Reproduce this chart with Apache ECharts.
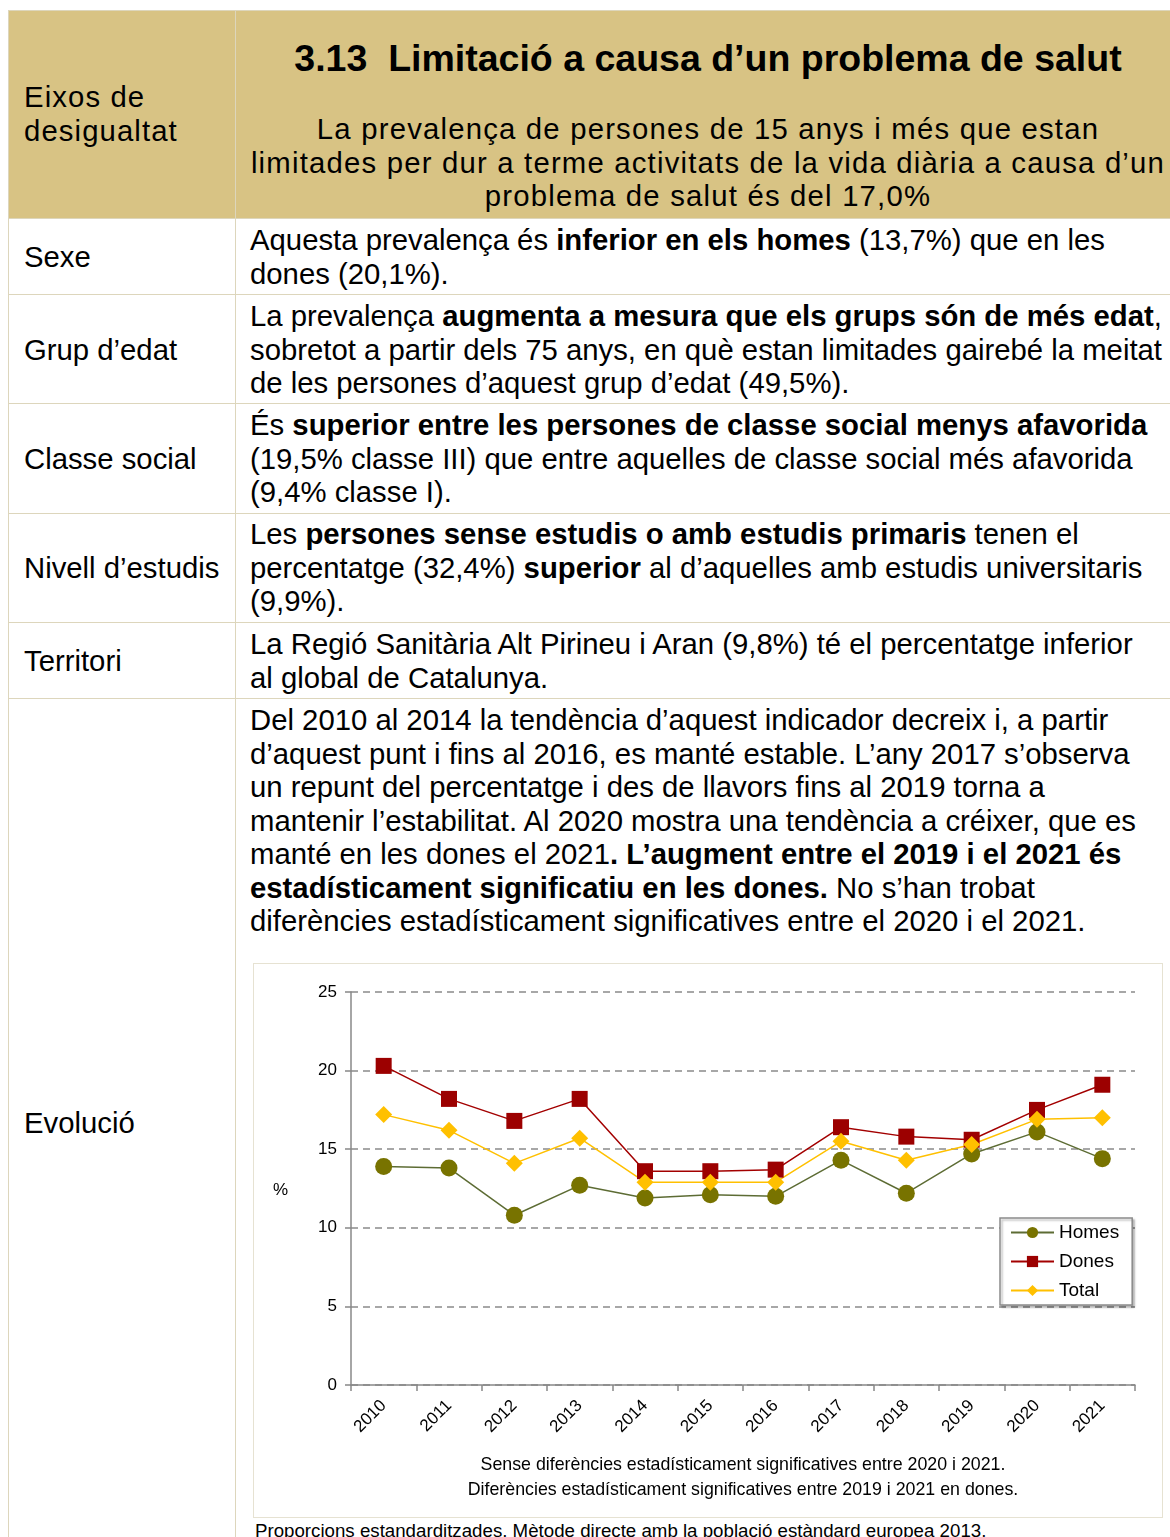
<!DOCTYPE html>
<html>
<head>
<meta charset="utf-8">
<title>3.13 Limitació a causa d'un problema de salut</title>
<script src="https://cdn.jsdelivr.net/npm/echarts/dist/echarts.min.js"></script>
<style>
  body { margin: 0; width: 1170px; height: 1537px; overflow: hidden; background: #fff;
         font-family: "Liberation Sans", Arial, sans-serif; color: #000; }
  .abs { position: absolute; }
  .hline { position: absolute; left: 8px; width: 1170px; height: 1px; background: #ddd6bc; }
  .vline { position: absolute; top: 10px; width: 1px; height: 1540px; background: #ddd6bc; }
  .lbl { position: absolute; left: 24px; font-size: 29.3px; line-height: 33.5px; white-space: nowrap; }
  .txt { position: absolute; left: 250px; font-size: 29.3px; line-height: 33.5px; white-space: nowrap; }
  .com-chart { position: absolute; left: 253px; top: 963px; width: 910px; height: 555px;
               border: 1px solid #e6e2d2; box-sizing: border-box; }
</style>
</head>
<body>
  <!-- capçalera -->
  <div class="abs" style="left:8px;top:10px;width:1170px;height:208px;background:#d8c384;"></div>
  <div class="hline" style="top:10px"></div>
  <div class="vline" style="left:8px"></div>
  <div class="vline" style="left:235px"></div>
  <div class="hline" style="top:218px"></div>
  <div class="hline" style="top:294px"></div>
  <div class="hline" style="top:403px"></div>
  <div class="hline" style="top:513px"></div>
  <div class="hline" style="top:622px"></div>
  <div class="hline" style="top:698px"></div>

  <div class="lbl" style="top:80px;letter-spacing:1.1px;">Eixos de<br>desigualtat</div>
  <div class="abs" style="left:236px;top:37px;width:944px;text-align:center;font-size:37.5px;font-weight:bold;white-space:pre;">3.13  Limitació a causa d’un problema de salut</div>
  <div class="abs" style="left:236px;top:112px;width:944px;text-align:center;font-size:29.3px;line-height:33.5px;letter-spacing:1.2px;white-space:nowrap;">La prevalença de persones de 15 anys i més que estan<br>limitades per dur a terme activitats de la vida diària a causa d’un<br>problema de salut és del 17,0%</div>

  <!-- files -->
  <div class="lbl" style="top:240px">Sexe</div>
  <div class="txt" style="top:223px">Aquesta prevalença és <b>inferior en els homes</b> (13,7%) que en les<br>dones (20,1%).</div>

  <div class="lbl" style="top:333px">Grup d’edat</div>
  <div class="txt" style="top:299px">La prevalença <b>augmenta a mesura que els grups són de més edat</b>,<br>sobretot a partir dels 75 anys, en què estan limitades gairebé la meitat<br>de les persones d’aquest grup d’edat (49,5%).</div>

  <div class="lbl" style="top:442px">Classe social</div>
  <div class="txt" style="top:408px">És <b>superior entre les persones de classe social menys afavorida</b><br>(19,5% classe III) que entre aquelles de classe social més afavorida<br>(9,4% classe I).</div>

  <div class="lbl" style="top:551px">Nivell d’estudis</div>
  <div class="txt" style="top:517px">Les <b>persones sense estudis o amb estudis primaris</b> tenen el<br>percentatge (32,4%) <b>superior</b> al d’aquelles amb estudis universitaris<br>(9,9%).</div>

  <div class="lbl" style="top:644px">Territori</div>
  <div class="txt" style="top:627px">La Regió Sanitària Alt Pirineu i Aran (9,8%) té el percentatge inferior<br>al global de Catalunya.</div>

  <div class="lbl" style="top:1106px">Evolució</div>
  <div class="txt" style="top:703px">Del 2010 al 2014 la tendència d’aquest indicador decreix i, a partir<br>d’aquest punt i fins al 2016, es manté estable. L’any 2017 s’observa<br>un repunt del percentatge i des de llavors fins al 2019 torna a<br>mantenir l’estabilitat. Al 2020 mostra una tendència a créixer, que es<br>manté en les dones el 2021<b>. L’augment entre el 2019 i el 2021 és<br>estadísticament significatiu en les dones.</b> No s’han trobat<br>diferències estadísticament significatives entre el 2020 i el 2021.</div>

  <div class="com-chart" id="chart_ref"></div>
  <div class="abs" style="left:255px;top:1520px;font-size:18.7px;white-space:nowrap;">Proporcions estandarditzades. Mètode directe amb la població estàndard europea 2013.</div>

<script>
// dades llegides del gràfic (%)
const years = ['2010', '2011', '2012', '2013', '2014', '2015', '2016', '2017', '2018', '2019', '2020', '2021']
const homes = [13.9, 13.8, 10.8, 12.7, 11.9, 12.1, 12.0, 14.3, 12.2, 14.7, 16.1, 14.4]
const dones = [20.3, 18.2, 16.8, 18.2, 13.6, 13.6, 13.7, 16.4, 15.8, 15.6, 17.5, 19.1]
const total = [17.2, 16.2, 14.1, 15.7, 12.9, 12.9, 12.9, 15.5, 14.3, 15.3, 16.9, 17.0]
const yMin = 0
const yMax = 25
const yStep = 5
const notes = [
  'Sense diferències estadísticament significatives entre 2020 i 2021.',
  'Diferències estadísticament significatives entre 2019 i 2021 en dones.'
]

const font = '"Liberation Sans", Arial, sans-serif'

function initChart () {
  const chartInstance = echarts.init(document.getElementById('chart_ref'))
  const option = {
    animation: false,
    textStyle: { fontFamily: font, color: '#000' },
    grid: { left: 97, top: 28, right: 27, bottom: 132 },
    legend: {
      orient: 'vertical',
      left: 746,
      top: 254,
      padding: [5, 13, 5, 10],
      itemWidth: 43,
      itemHeight: 14,
      itemGap: 10,
      borderColor: '#8a8a8a',
      borderWidth: 1.5,
      backgroundColor: '#fff',
      shadowColor: 'rgba(0,0,0,0.25)',
      shadowBlur: 2,
      shadowOffsetX: 2,
      shadowOffsetY: 2,
      textStyle: { fontSize: 19, lineHeight: 18, color: '#000', fontFamily: font },
      data: ['Homes', 'Dones', 'Total']
    },
    xAxis: {
      type: 'category',
      data: years,
      boundaryGap: true,
      axisLine: { lineStyle: { color: '#888', width: 1.5 } },
      axisTick: { show: true, length: 6, lineStyle: { color: '#888', width: 1.5 } },
      axisLabel: { rotate: 45, margin: 18, fontSize: 17, color: '#000', fontFamily: font },
      splitLine: { show: false }
    },
    yAxis: {
      type: 'value',
      min: yMin,
      max: yMax,
      interval: yStep,
      axisLine: { show: true, lineStyle: { color: '#888', width: 1.5 } },
      axisTick: { show: true, length: 6, lineStyle: { color: '#888', width: 1.5 } },
      axisLabel: { margin: 14, fontSize: 17, color: '#000', fontFamily: font },
      splitLine: { lineStyle: { color: '#8a8a8a', width: 1.5, type: [7, 5] } }
    },
    graphic: [
      { type: 'text', left: 19, top: 218, style: { text: '%', font: '17px ' + font, fill: '#000' } },
      { type: 'text', x: 489, y: 501, style: { text: notes[0], font: '17.8px ' + font, fill: '#000', align: 'center', verticalAlign: 'middle' } },
      { type: 'text', x: 489, y: 526, style: { text: notes[1], font: '17.8px ' + font, fill: '#000', align: 'center', verticalAlign: 'middle' } }
    ],
    series: [
      {
        name: 'Homes',
        type: 'line',
        data: homes,
        symbol: 'circle',
        symbolSize: 17,
        lineStyle: { color: '#5d6c34', width: 1.5 },
        itemStyle: { color: '#787300' }
      },
      {
        name: 'Dones',
        type: 'line',
        data: dones,
        symbol: 'rect',
        symbolSize: 16,
        lineStyle: { color: '#a30000', width: 1.5 },
        itemStyle: { color: '#9c0000' }
      },
      {
        name: 'Total',
        type: 'line',
        data: total,
        symbol: 'diamond',
        symbolSize: 17,
        lineStyle: { color: '#ffc000', width: 1.5 },
        itemStyle: { color: '#ffc000' }
      }
    ]
  }
  chartInstance.setOption(option)
}

initChart()
</script>
</body>
</html>
